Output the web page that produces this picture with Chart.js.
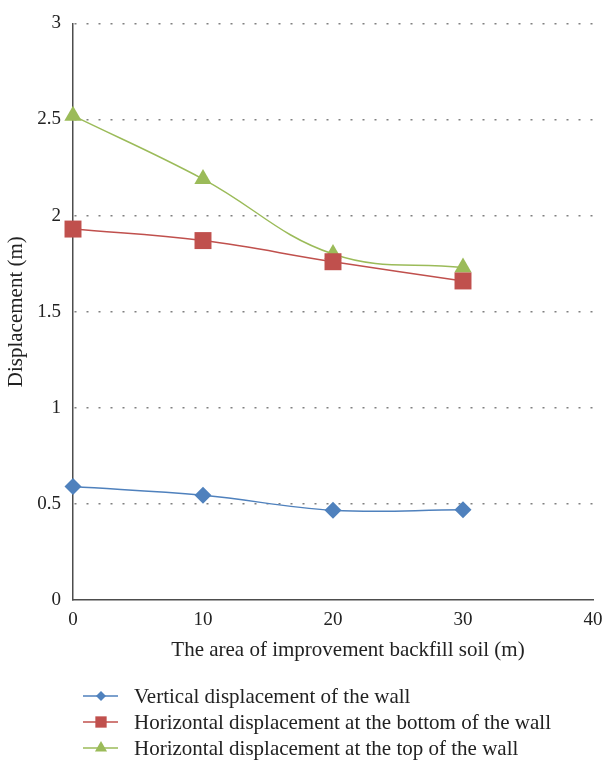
<!DOCTYPE html>
<html>
<head>
<meta charset="utf-8">
<script src="https://cdn.jsdelivr.net/npm/chart.js@4/dist/chart.umd.min.js"></script>
<style>
  html, body { margin: 0; padding: 0; background: #fff; }
  canvas { display: block; }
</style>
</head>
<body>
<canvas id="wall-chart" width="605" height="761"></canvas>
<script>
// data
var areas = [0, 10, 20, 30];
var verticalDisp = [0.59, 0.545, 0.467, 0.47];
var bottomDisp = [1.93, 1.87, 1.76, 1.66];
var topDisp = [2.52, 2.19, 1.80, 1.73];
var seriesNames = [
  'Vertical displacement of the wall',
  'Horizontal displacement at the bottom of the wall',
  'Horizontal displacement at the top of the wall'
];
var xTicks = [0, 10, 20, 30, 40];
var yTicks = [0, 0.5, 1, 1.5, 2, 2.5, 3];
var xTitle = 'The area of improvement backfill soil (m)';
var yTitle = 'Displacement (m)';

var FONT = '"Liberation Serif", "DejaVu Serif", serif';

function points(values) {
  return values.map(function (v, i) { return { x: areas[i], y: v }; });
}

// x title sits a bit right of the plot centre in the original, so it is drawn here,
// together with the legend: short line with the marker in the middle
var lineLegend = {
  id: 'lineLegend',
  afterDraw: function (chart) {
    var ctx = chart.ctx;
    var rows = [696, 722, 748];
    ctx.save();
    ctx.font = '21px ' + FONT;
    ctx.fillStyle = '#222';
    ctx.textBaseline = 'middle';
    ctx.textAlign = 'center';
    ctx.fillText(xTitle, 348, 650);

    chart.data.datasets.forEach(function (ds, i) {
      var y = rows[i];
      ctx.strokeStyle = ds.borderColor;
      ctx.lineWidth = 1.5;
      ctx.beginPath();
      ctx.moveTo(83, y);
      ctx.lineTo(118, y);
      ctx.stroke();
      ctx.fillStyle = ds.backgroundColor;
      Chart.helpers.drawPoint(ctx, {
        pointStyle: ds.pointStyle,
        radius: ds.legendRadius,
        rotation: 0,
        borderWidth: 0
      }, 101, y);
      ctx.fillStyle = '#222';
      ctx.textAlign = 'left';
      ctx.fillText(ds.label, 134, y + 1);
    });
    ctx.restore();
  }
};

new Chart(document.getElementById('wall-chart'), {
  type: 'line',
  data: {
    datasets: [{
      label: seriesNames[0],
      data: points(verticalDisp),
      borderColor: '#4F81BD',
      backgroundColor: '#4F81BD',
      pointStyle: 'rectRot',
      pointRadius: 8.5,
      legendRadius: 5
    }, {
      label: seriesNames[1],
      data: points(bottomDisp),
      borderColor: '#C0504D',
      backgroundColor: '#C0504D',
      pointStyle: 'rect',
      pointRadius: 12,
      legendRadius: 8
    }, {
      label: seriesNames[2],
      data: points(topDisp),
      borderColor: '#9BBB59',
      backgroundColor: '#9BBB59',
      pointStyle: 'triangle',
      pointRadius: 10,
      legendRadius: 7
    }]
  },
  options: {
    responsive: false,
    animation: false,
    clip: false,
    layout: { padding: { left: 0, right: 0, top: 15, bottom: 94 } },
    elements: {
      line: { borderWidth: 1.5, tension: 0.4, fill: false },
      point: { borderWidth: 0 }
    },
    plugins: {
      legend: { display: false },
      tooltip: { enabled: false }
    },
    scales: {
      x: {
        type: 'linear',
        min: 0,
        max: 40,
        afterBuildTicks: function (scale) {
          scale.ticks = xTicks.map(function (v) { return { value: v }; });
        },
        afterFit: function (scale) {
          scale.height = 67;
          scale.paddingLeft = 0;
          scale.paddingRight = 9;
        },
        grid: { display: false, drawTicks: false },
        border: { display: true, color: '#4d4d4d', width: 1.5 },
        ticks: { padding: 9, color: '#222', font: { family: FONT, size: 19 } },
        title: { display: false }
      },
      y: {
        min: 0,
        max: 3,
        afterBuildTicks: function (scale) {
          scale.ticks = yTicks.map(function (v) { return { value: v }; });
        },
        afterFit: function (scale) { scale.width = 73; },
        grid: {
          drawTicks: false,
          color: function (c) { return c.tick && c.tick.value === 0 ? 'rgba(0,0,0,0)' : '#808080'; },
          lineWidth: 1.5
        },
        border: { display: true, color: '#4d4d4d', width: 1.5, dash: [2, 10], dashOffset: -1 },
        ticks: {
          padding: 12,
          color: '#222',
          font: { family: FONT, size: 19 },
          callback: function (v) { return String(v); }
        },
        title: {
          display: true,
          text: yTitle,
          color: '#222',
          font: { family: FONT, size: 21 },
          padding: { top: 4, bottom: 4 }
        }
      }
    }
  },
  plugins: [lineLegend]
});
</script>
</body>
</html>
